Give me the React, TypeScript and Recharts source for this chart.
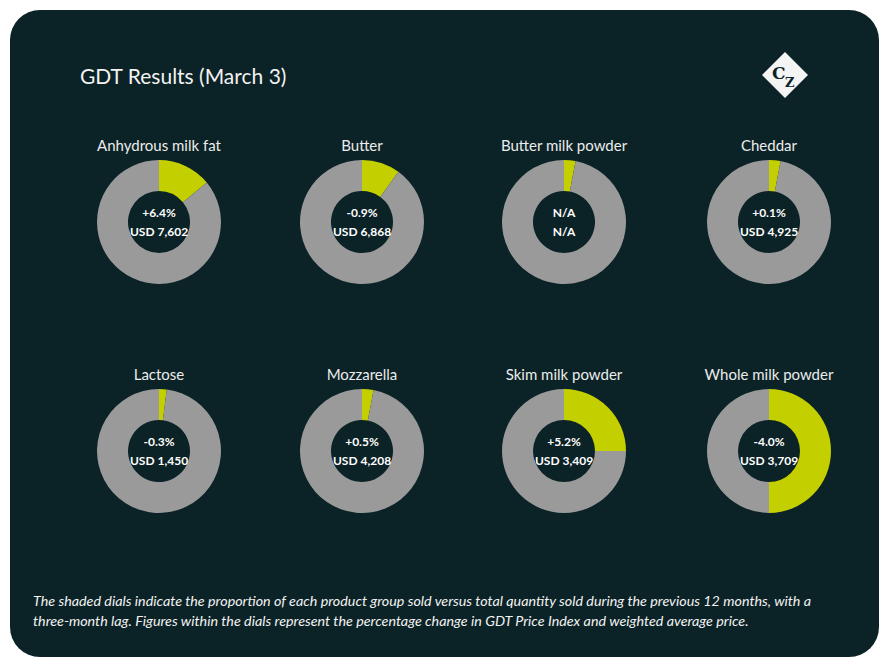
import { Cell, Label, Pie, PieChart } from 'recharts'

const products = [
  'Anhydrous milk fat',
  'Butter',
  'Butter milk powder',
  'Cheddar',
  'Lactose',
  'Mozzarella',
  'Skim milk powder',
  'Whole milk powder',
]
// share of total quantity sold, percent
const shares = [14, 10, 3, 3, 2, 3, 25, 50]
const priceChanges = ['+6.4%', '-0.9%', 'N/A', '+0.1%', '-0.3%', '+0.5%', '+5.2%', '-4.0%']
const prices = ['USD 7,602', 'USD 6,868', 'N/A', 'USD 4,925', 'USD 1,450', 'USD 4,208', 'USD 3,409', 'USD 3,709']

const BG = '#0b2226'
const GREY = '#9a9a9a'
const LIME = '#c4cf00'
const FONT = 'Lato, "Open Sans", sans-serif'

const colX = [149, 352, 554, 759]
const rowY = [212, 441]

interface DialProps {
  index: number
}

const Dial = ({ index }: DialProps) => {
  const cx = colX[index % 4]
  const cy = rowY[Math.floor(index / 4)]
  const data = [
    { name: 'sold', value: shares[index] },
    { name: 'rest', value: 100 - shares[index] },
  ]
  return (
    <>
      <div
        style={{
          position: 'absolute',
          left: cx - 100,
          top: cy - 86,
          width: 200,
          textAlign: 'center',
          fontSize: 15,
          color: '#ececec',
        }}
      >
        {products[index]}
      </div>
      <div style={{ position: 'absolute', left: cx - 80, top: cy - 80 }}>
        <PieChart width={160} height={160} margin={{ top: 0, right: 0, bottom: 0, left: 0 }}>
          <Pie
            data={data}
            dataKey="value"
            cx={80}
            cy={80}
            innerRadius={31}
            outerRadius={62}
            startAngle={90}
            endAngle={-270}
            stroke="none"
            isAnimationActive={false}
          >
            <Cell fill={LIME} />
            <Cell fill={GREY} />
            <Label
              position="center"
              content={() => (
                <text
                  x={80}
                  y={80}
                  textAnchor="middle"
                  fill="#ffffff"
                  fontSize={12}
                  fontWeight={700}
                  fontFamily={FONT}
                >
                  <tspan x={80} dy={-5}>
                    {priceChanges[index]}
                  </tspan>
                  <tspan x={80} dy={19}>
                    {prices[index]}
                  </tspan>
                </text>
              )}
            />
          </Pie>
        </PieChart>
      </div>
    </>
  )
}

export default function App() {
  return (
    <div
      style={{
        position: 'absolute',
        left: 10,
        top: 10,
        width: 869,
        height: 647,
        background: BG,
        borderRadius: 30,
        fontFamily: FONT,
        overflow: 'hidden',
      }}
    >
      <div style={{ position: 'absolute', left: 70, top: 53, fontSize: 21, color: '#f2f2f2' }}>
        GDT Results (March 3)
      </div>
      <svg style={{ position: 'absolute', left: 751, top: 41 }} width={48} height={48}>
        <polygon points="24,1 47,24 24,47 1,24" fill="#f4f4f4" />
        <text fontFamily="'DejaVu Serif', serif" fill={BG} fontWeight={700}>
          <tspan x={11} y={28} fontSize={17}>
            C
          </tspan>
          <tspan x={24} y={36} fontSize={13}>
            Z
          </tspan>
        </text>
      </svg>
      {products.map((_, i) => (
        <Dial key={i} index={i} />
      ))}
      <div
        style={{
          position: 'absolute',
          left: 23,
          top: 581,
          width: 840,
          fontSize: 14.3,
          lineHeight: '20px',
          fontStyle: 'italic',
          color: '#f2f2f2',
          whiteSpace: 'nowrap',
        }}
      >
        The shaded dials indicate the proportion of each product group sold versus total quantity sold during the
        previous 12 months, with a
        <br />
        three-month lag. Figures within the dials represent the percentage change in GDT Price Index and weighted
        average price.
      </div>
    </div>
  )
}
